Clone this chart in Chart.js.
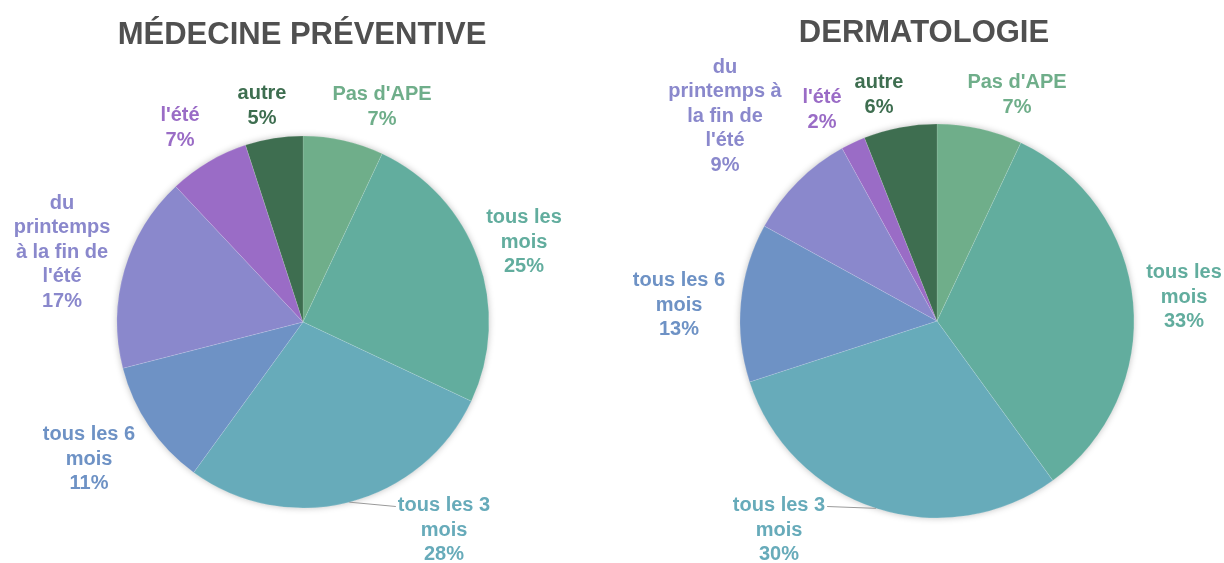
<!DOCTYPE html>
<html lang="fr">
<head>
<meta charset="utf-8">
<title>Pies</title>
<script src="https://cdn.jsdelivr.net/npm/chart.js@4.4.1/dist/chart.umd.min.js"></script>
<style>
  html, body { margin: 0; padding: 0; background: #fff; }
  body { width: 1224px; height: 563px; position: relative; overflow: hidden; }
  canvas { position: absolute; top: 0; }
  #c1 { left: 0; }
  #c2 { left: 612px; }
</style>
</head>
<body>
<canvas id="c1" width="612" height="563"></canvas>
<canvas id="c2" width="612" height="563"></canvas>
<script>
// catégories (sens horaire depuis midi) et valeurs en %
var categories = ["Pas d'APE", "tous les mois", "tous les 3 mois", "tous les 6 mois",
                  "du printemps à la fin de l'été", "l'été", "autre"];
var medecineValues = [7, 25, 28, 11, 17, 7, 5];
var dermatoValues  = [7, 33, 30, 13, 9, 2, 6];

// libellés coupés comme sur l'original
var medecineLabels = [["Pas d'APE"], ["tous les", "mois"], ["tous les 3", "mois"], ["tous les 6", "mois"],
                      ["du", "printemps", "à la fin de", "l'été"], ["l'été"], ["autre"]];
var dermatoLabels  = [["Pas d'APE"], ["tous les", "mois"], ["tous les 3", "mois"], ["tous les 6", "mois"],
                      ["du", "printemps à", "la fin de", "l'été"], ["l'été"], ["autre"]];

var COLORS = ["#6fae8a", "#62ad9e", "#67abba", "#6e92c5", "#8a88cc", "#9a6cc6", "#3e6e50"];
var FONT = "'Liberation Sans', Arial, sans-serif";

// position du bloc de texte, relative au centre du camembert (px)
var medecineOffsets = [[79, -215], [221, -80], [141, 208], [-214, 137], [-241, -70], [-123, -194], [-41, -216]];
var dermatoOffsets  = [[80, -226], [247, -24], [-158, 209], [-258, -16], [-212, -205], [-115, -211], [-58, -226]];

// étiquettes extérieures + trait de rappel pour "tous les 3 mois"
var outLabels = {
    id: "outLabels",
    beforeDatasetsDraw: function (chart) {
        // ombre douce sous le disque
        var arc = chart.getDatasetMeta(0).data[0];
        var ctx = chart.ctx;
        ctx.save();
        ctx.shadowColor = "rgba(0,0,0,0.28)";
        ctx.shadowBlur = 7;
        ctx.fillStyle = "#fff";
        ctx.beginPath();
        ctx.arc(arc.x, arc.y, arc.outerRadius - 0.5, 0, Math.PI * 2);
        ctx.fill();
        ctx.restore();
    },
    afterDatasetsDraw: function (chart, args, opts) {
        var ctx = chart.ctx;
        var meta = chart.getDatasetMeta(0);
        var values = chart.data.datasets[0].data;
        var lh = 24.5;
        ctx.save();
        // titre
        ctx.font = "bold 31px " + FONT;
        ctx.fillStyle = "#505050";
        ctx.textAlign = "center";
        ctx.textBaseline = "middle";
        ctx.fillText(opts.title, opts.titleX, opts.titleY);

        ctx.font = "bold 20px " + FONT;
        meta.data.forEach(function (arc, i) {
            var lines = opts.lines[i].concat([values[i] + "%"]);
            var off = opts.offsets[i];
            var cx = arc.x + off[0];
            var top = arc.y + off[1] - (lines.length - 1) * lh / 2;
            ctx.fillStyle = COLORS[i];
            lines.forEach(function (t, k) { ctx.fillText(t, cx, top + k * lh); });

            if (opts.leader === i) {
                var mid = (arc.startAngle + arc.endAngle) / 2;
                var ex = arc.x + Math.cos(mid) * arc.outerRadius;
                var ey = arc.y + Math.sin(mid) * arc.outerRadius;
                var w = ctx.measureText(lines[0]).width;
                var tx = ex < cx ? cx - w / 2 - 2 : cx + w / 2 + 2;
                ctx.strokeStyle = "#9a9a9a";
                ctx.lineWidth = 1;
                ctx.beginPath();
                ctx.moveTo(ex, ey);
                ctx.lineTo(tx, top + 1);
                ctx.stroke();
            }
        });
        ctx.restore();
    }
};

function makePie(id, values, radius, padding, opts) {
    return new Chart(document.getElementById(id), {
        type: "pie",
        data: {
            labels: categories,
            datasets: [{
                data: values,
                backgroundColor: COLORS,
                borderColor: "rgba(255,255,255,0.12)",
                borderWidth: 1
            }]
        },
        options: {
            responsive: false,
            animation: false,
            devicePixelRatio: 1,
            radius: radius,
            layout: { padding: padding },
            plugins: {
                legend: { display: false },
                tooltip: { enabled: false },
                outLabels: opts
            }
        },
        plugins: [outLabels]
    });
}

makePie("c1", medecineValues, 186, { left: 0, right: 6, top: 81, bottom: 0 }, {
    title: "MÉDECINE PRÉVENTIVE", titleX: 302, titleY: 35,
    lines: medecineLabels, offsets: medecineOffsets, leader: 2
});
makePie("c2", dermatoValues, 197, { left: 38, right: 0, top: 79, bottom: 0 }, {
    title: "DERMATOLOGIE", titleX: 312, titleY: 33,
    lines: dermatoLabels, offsets: dermatoOffsets, leader: 2
});
</script>
</body>
</html>
